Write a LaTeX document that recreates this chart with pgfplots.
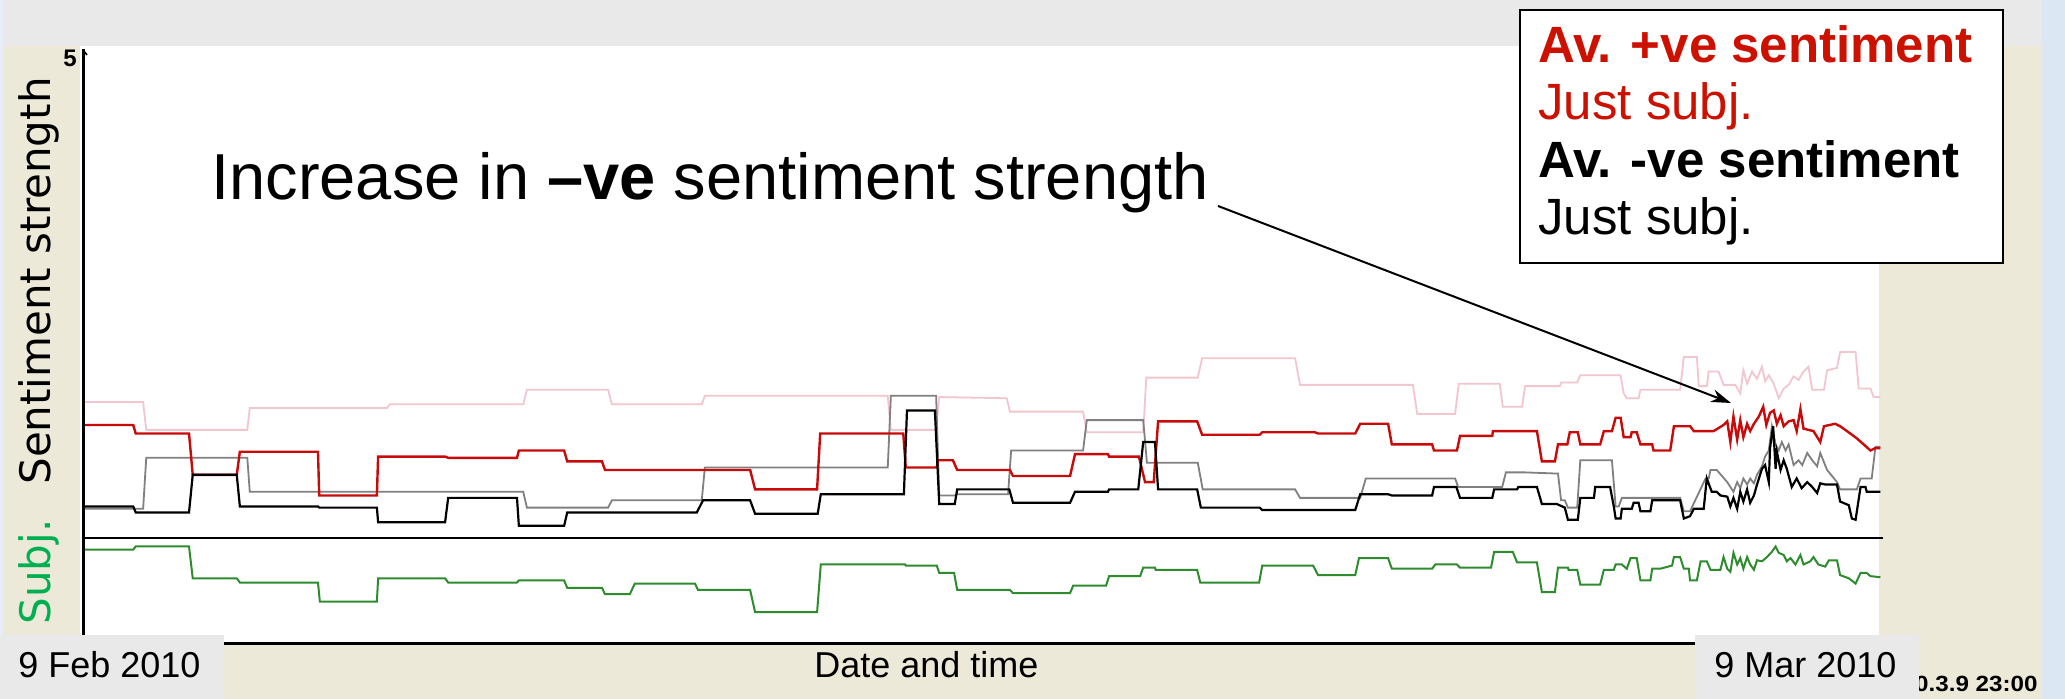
\documentclass[border=0pt]{standalone}
\usepackage{pgfplots}
\pgfplotsset{compat=1.18}
\usetikzlibrary{arrows.meta}
\usepackage{fontspec}
\setmainfont{Liberation Sans}
\newfontfamily\dejavu{DejaVu Sans}

\definecolor{bandgray}{HTML}{E9E9E9}
\definecolor{beige}{HTML}{ECE9D8}
\definecolor{edgeblue}{HTML}{DCE7F4}
\definecolor{posred}{HTML}{C80A0A}
\definecolor{possubj}{HTML}{F2C6CF}
\definecolor{negsubj}{HTML}{808080}
\definecolor{subjgreen}{HTML}{2E8B2E}
\definecolor{labgreen}{HTML}{00B050}
\definecolor{legred}{HTML}{CC1100}

% pixel grid of the reference: 1 px = 0.5pt, y measured downwards from the top
\tikzset{px/.style={shift={(0pt,349.5pt)}, x=0.5pt, y=-0.5pt}}

\begin{document}
\begin{tikzpicture}
\begin{scope}[px]
\fill[edgeblue] (0,0) rectangle (2065,699);
\fill[bandgray] (0,0) rectangle (2042,46);
\fill[beige] (3,46) rectangle (2042,699);
\fill[white] (80,46) rectangle (1879,644);
\fill[edgeblue!70!white] (0,0) rectangle (3,699);
\end{scope}

% sentiment strength, 1..5
\begin{axis}[at={(41.5pt,80.5pt)}, anchor=south west, scale only axis,
  width=899pt, height=243pt, xmin=0, xmax=29, ymin=1, ymax=5, hide axis]
% +ve, just subjective texts
\addplot[possubj, line width=0.9pt] coordinates {
(0,2.12) (0.97,2.12) (1.02,1.89) (2.65,1.89) (2.69,2.07) (4.90,2.07) (4.95,2.10)
(7.10,2.10) (7.16,2.22) (8.47,2.22) (8.53,2.10) (9.98,2.10) (10.03,2.17)
(12.98,2.17) (13.03,1.89) (13.76,1.89) (13.81,2.16) (14.90,2.15) (14.95,2.04)
(16.13,2.04) (16.19,1.87) (17.10,1.87) (17.15,2.32) (17.98,2.32) (18.05,2.48)
(19.55,2.48) (19.63,2.26) (21.45,2.26) (21.52,2.02) (22.13,2.02) (22.19,2.27)
(22.85,2.27) (22.90,2.08) (23.21,2.08) (23.26,2.25) (23.82,2.25) (23.84,2.28)
(24.10,2.28) (24.15,2.34) (24.80,2.34) (24.85,2.19) (24.90,2.15) (25.09,2.15)
(25.12,2.22) (25.76,2.22) (25.82,2.49) (26.03,2.49) (26.06,2.25) (26.19,2.25)
(26.22,2.37) (26.38,2.37) (26.46,2.26) (26.65,2.26) (26.73,2.19) (26.78,2.38)
(26.84,2.27) (26.92,2.37) (27.00,2.31) (27.08,2.41) (27.13,2.29) (27.19,2.34)
(27.27,2.27) (27.35,2.15) (27.43,2.23) (27.51,2.26) (27.59,2.33) (27.67,2.30)
(27.75,2.37) (27.83,2.41) (27.89,2.22) (28.08,2.22) (28.13,2.38) (28.29,2.40)
(28.34,2.53) (28.59,2.53) (28.64,2.23) (28.83,2.23) (28.88,2.16) (28.99,2.16)
};
% -ve, just subjective texts
\addplot[negsubj, line width=0.9pt] coordinates {
(0,1.24) (0.97,1.24) (1.02,1.66) (2.65,1.66) (2.69,1.38) (7.10,1.38) (7.16,1.25)
(8.47,1.25) (8.53,1.31) (9.98,1.31) (10.03,1.58) (12.98,1.58) (13.03,2.17)
(13.76,2.17) (13.81,1.35) (14.06,1.35) (14.10,1.36) (14.92,1.36) (14.97,1.72)
(16.13,1.72) (16.19,1.97) (17.10,1.97) (17.16,1.62) (17.98,1.62) (18.06,1.40)
(19.55,1.40) (19.63,1.33) (20.60,1.33) (20.69,1.49) (22.13,1.49) (22.18,1.42)
(22.89,1.42) (22.95,1.54) (23.26,1.54) (23.79,1.53) (23.84,1.31) (23.90,1.31)
(23.95,1.25) (24.10,1.25) (24.15,1.64) (24.66,1.64) (24.72,1.26) (24.77,1.26)
(24.82,1.33) (25.76,1.33) (25.82,1.22) (25.92,1.22) (26.17,1.49) (26.22,1.49)
(26.25,1.56) (26.35,1.56) (26.52,1.46) (26.62,1.38) (26.68,1.46) (26.73,1.41)
(26.78,1.49) (26.84,1.44) (26.89,1.49) (26.95,1.45) (27.00,1.52) (27.08,1.59)
(27.13,1.67) (27.19,1.72) (27.24,1.92) (27.30,1.77) (27.35,1.72) (27.40,1.79)
(27.46,1.72) (27.51,1.77) (27.59,1.60) (27.67,1.64) (27.73,1.60) (27.81,1.70)
(27.89,1.64) (27.97,1.59) (28.02,1.70) (28.13,1.56) (28.29,1.46) (28.34,1.40)
(28.61,1.40) (28.67,1.49) (28.85,1.49) (28.91,1.75) (28.99,1.75)
};
% average +ve sentiment
\addplot[posred, line width=1.2pt] coordinates {
(0,1.93) (0.81,1.93) (0.85,1.86) (1.71,1.86) (1.77,1.52) (2.48,1.52) (2.53,1.71)
(3.79,1.71) (3.81,1.35) (4.74,1.35) (4.76,1.67) (5.84,1.67) (5.89,1.66)
(7.00,1.66) (7.03,1.72) (7.76,1.72) (7.81,1.63) (8.37,1.63) (8.42,1.56)
(10.76,1.56) (10.84,1.40) (11.84,1.40) (11.89,1.86) (13.23,1.86) (13.27,1.58)
(13.77,1.58) (13.79,1.64) (14.03,1.64) (14.10,1.56) (14.95,1.56) (15.00,1.51)
(15.92,1.51) (16.00,1.69) (16.53,1.69) (16.55,1.67) (17.03,1.67) (17.13,1.46)
(17.27,1.46) (17.34,1.96) (17.97,1.96) (18.05,1.85) (18.98,1.85) (19.02,1.87)
(19.87,1.87) (19.92,1.86) (20.52,1.86) (20.60,1.94) (21.05,1.94) (21.11,1.77)
(21.76,1.77) (21.79,1.72) (22.16,1.72) (22.21,1.84) (22.73,1.84) (22.74,1.88)
(23.45,1.88) (23.53,1.63) (23.74,1.63) (23.79,1.77) (23.94,1.77) (23.98,1.87)
(24.11,1.87) (24.15,1.77) (24.47,1.77) (24.53,1.88) (24.66,1.88) (24.72,1.99)
(24.80,1.99) (24.85,1.83) (24.96,1.83) (24.98,1.87) (25.06,1.87) (25.12,1.77)
(25.31,1.77) (25.33,1.72) (25.60,1.72) (25.66,1.92) (25.92,1.92) (25.98,1.88)
(26.30,1.88) (26.46,1.93) (26.52,1.96) (26.57,1.79) (26.62,2.00) (26.68,1.81)
(26.73,1.97) (26.78,1.83) (26.84,1.94) (26.89,1.88) (26.95,1.94) (27.03,2.00)
(27.10,2.08) (27.15,1.93) (27.21,2.03) (27.27,2.05) (27.32,1.94) (27.38,2.01)
(27.43,1.92) (27.51,1.96) (27.59,1.97) (27.64,1.88) (27.70,2.06) (27.75,1.90)
(27.91,1.88) (28.02,1.79) (28.08,1.92) (28.26,1.94) (28.34,1.92) (28.45,1.88)
(28.61,1.82) (28.83,1.72) (28.91,1.74) (28.99,1.74)
};
% average -ve sentiment
\addplot[black, line width=1.1pt] coordinates {
(0,1.26) (0.81,1.26) (0.85,1.21) (1.71,1.21) (1.77,1.52) (2.48,1.52) (2.53,1.26)
(3.79,1.26) (3.81,1.25) (4.74,1.25) (4.76,1.13) (5.84,1.13) (5.89,1.33)
(7.00,1.33) (7.03,1.10) (7.76,1.10) (7.81,1.21) (9.90,1.21) (10.00,1.31)
(10.76,1.31) (10.84,1.20) (11.85,1.20) (11.90,1.36) (13.24,1.36) (13.29,2.05)
(13.74,2.05) (13.81,1.28) (14.06,1.28) (14.10,1.40) (14.94,1.40) (15.00,1.29)
(15.92,1.29) (16.00,1.38) (16.53,1.38) (16.55,1.40) (17.02,1.40) (17.10,1.79)
(17.29,1.79) (17.34,1.40) (17.97,1.40) (18.03,1.25) (18.98,1.25) (19.02,1.23)
(20.52,1.23) (20.60,1.36) (21.05,1.36) (21.11,1.35) (21.76,1.35) (21.79,1.42)
(22.15,1.42) (22.21,1.33) (22.73,1.33) (22.76,1.40) (23.13,1.40) (23.15,1.42)
(23.45,1.42) (23.53,1.28) (23.77,1.28) (23.90,1.25) (23.95,1.15) (24.11,1.15)
(24.15,1.33) (24.37,1.33) (24.39,1.42) (24.63,1.42) (24.69,1.26) (24.72,1.16)
(24.80,1.16) (24.82,1.24) (24.98,1.24) (25.01,1.29) (25.09,1.29) (25.12,1.22)
(25.28,1.22) (25.31,1.31) (25.76,1.31) (25.82,1.16) (25.92,1.18) (25.98,1.24)
(26.14,1.24) (26.19,1.49) (26.27,1.38) (26.35,1.38) (26.41,1.35) (26.52,1.34)
(26.57,1.26) (26.62,1.33) (26.68,1.24) (26.73,1.38) (26.78,1.30) (26.84,1.40)
(26.89,1.29) (26.95,1.35) (27.00,1.44) (27.08,1.57) (27.13,1.60) (27.19,1.46)
(27.21,1.74) (27.26,1.92) (27.30,1.57) (27.32,1.71) (27.38,1.56) (27.43,1.64)
(27.48,1.57) (27.56,1.42) (27.64,1.49) (27.72,1.41) (27.81,1.46) (27.89,1.42)
(27.97,1.37) (28.02,1.45) (28.10,1.44) (28.29,1.44) (28.34,1.30) (28.48,1.27)
(28.53,1.16) (28.59,1.15) (28.67,1.42) (28.75,1.42) (28.77,1.38) (28.99,1.38)
};
\end{axis}

% subjectivity, 0..1
\begin{axis}[at={(41.5pt,27.5pt)}, anchor=south west, scale only axis,
  width=899pt, height=53pt, xmin=0, xmax=29, ymin=0, ymax=1, hide axis]
\addplot[subjgreen, line width=1pt] coordinates {
(0,0.89) (0.81,0.89) (0.85,0.92) (1.71,0.92) (1.77,0.62) (2.48,0.62) (2.53,0.58)
(3.79,0.58) (3.82,0.40) (4.74,0.40) (4.76,0.62) (5.84,0.62) (5.89,0.58)
(7.00,0.58) (7.03,0.60) (7.76,0.60) (7.81,0.53) (8.37,0.53) (8.42,0.47)
(8.82,0.47) (8.90,0.57) (9.87,0.57) (9.92,0.51) (10.76,0.51) (10.84,0.30)
(11.84,0.30) (11.90,0.75) (13.26,0.75) (13.27,0.74) (13.77,0.74) (13.81,0.67)
(14.05,0.67) (14.10,0.51) (14.95,0.51) (15.00,0.48) (15.92,0.48) (15.97,0.55)
(16.50,0.55) (16.55,0.64) (17.05,0.64) (17.10,0.72) (17.29,0.72) (17.30,0.70)
(17.97,0.70) (18.02,0.58) (18.97,0.58) (19.02,0.74) (19.84,0.74) (19.92,0.65)
(20.52,0.65) (20.58,0.81) (21.05,0.81) (21.11,0.71) (21.76,0.71) (21.81,0.75)
(22.16,0.75) (22.21,0.72) (22.71,0.72) (22.76,0.87) (23.06,0.87) (23.13,0.77)
(23.45,0.77) (23.53,0.49) (23.74,0.49) (23.79,0.72) (23.95,0.72) (23.96,0.70)
(24.10,0.70) (24.15,0.56) (24.47,0.56) (24.53,0.70) (24.69,0.70) (24.72,0.75)
(24.82,0.75) (24.90,0.71) (24.96,0.81) (25.06,0.81) (25.12,0.60) (25.28,0.60)
(25.31,0.71) (25.44,0.71) (25.63,0.74) (25.66,0.82) (25.76,0.82) (25.82,0.71)
(25.90,0.71) (25.92,0.60) (26.03,0.60) (26.09,0.78) (26.19,0.78) (26.25,0.70)
(26.41,0.70) (26.46,0.82) (26.52,0.71) (26.57,0.68) (26.62,0.86) (26.68,0.75)
(26.73,0.81) (26.78,0.71) (26.84,0.82) (26.89,0.75) (26.95,0.70) (27.00,0.79)
(27.08,0.78) (27.16,0.82) (27.24,0.87) (27.30,0.92) (27.35,0.86) (27.43,0.84)
(27.48,0.78) (27.54,0.81) (27.62,0.75) (27.70,0.84) (27.75,0.75) (27.86,0.78)
(27.91,0.82) (27.99,0.75) (28.10,0.73) (28.16,0.79) (28.29,0.79) (28.34,0.65)
(28.48,0.62) (28.59,0.57) (28.67,0.67) (28.77,0.67) (28.83,0.64) (28.99,0.63)
};
\end{axis}

\begin{scope}[px]
% axis lines
\draw[line width=1.5pt] (83,49) -- (83,645);
\draw[line width=0.8pt] (83,50) -- (87,55);
\draw[line width=1pt] (83,538) -- (1883,538);
\draw[line width=1.5pt] (83,644) -- (1880,644);
\node[font=\bfseries\fontsize{12pt}{14pt}\selectfont, anchor=base, inner sep=0] at (70,67) {5};

% axis titles
\node[font=\dejavu\fontsize{21pt}{24pt}\selectfont, rotate=90, anchor=base, inner sep=0] at (50,281) {Sentiment strength};
\node[font=\dejavu\fontsize{21pt}{24pt}\selectfont, rotate=90, anchor=base, inner sep=0, text=labgreen] at (50,572) {Subj.};
\node[font=\fontsize{18pt}{21pt}\selectfont, anchor=base west, inner sep=0] at (814,678) {Date and time};
\node[font=\bfseries\fontsize{11pt}{13pt}\selectfont, anchor=base east, inner sep=0] at (2038,692) {\scalebox{1.1}[1]{10.3.9 23:00}};

% date boxes
\fill[bandgray] (0,635) rectangle (224,699);
\node[font=\fontsize{18pt}{21pt}\selectfont, anchor=base west, inner sep=0] at (18,678) {9 Feb 2010};
\fill[bandgray] (1695,635) rectangle (1919,699);
\node[font=\fontsize{18pt}{21pt}\selectfont, anchor=base west, inner sep=0] at (1714,678) {9 Mar 2010};

% annotation
\node[font=\fontsize{32.5pt}{38pt}\selectfont, anchor=base west, inner sep=0] at (211,200) {Increase in \textbf{\textendash ve} sentiment strength};
\draw[line width=1pt, -{Stealth[length=10pt,width=6.5pt]}] (1218,206) -- (1731,403);

% legend
\draw[line width=1.1pt, fill=white] (1520,10) rectangle (2003,263);
\begin{scope}[every node/.style={anchor=base west, inner sep=0, font=\fontsize{25.5pt}{30pt}\selectfont}]
\node[text=legred] at (1538,63) {\textbf{Av. +ve sentiment}};
\node[text=legred] at (1538,120) {Just subj.};
\node at (1538,178) {\textbf{Av. -ve sentiment}};
\node at (1538,235) {Just subj.};
\end{scope}
\end{scope}
\end{tikzpicture}
\end{document}
